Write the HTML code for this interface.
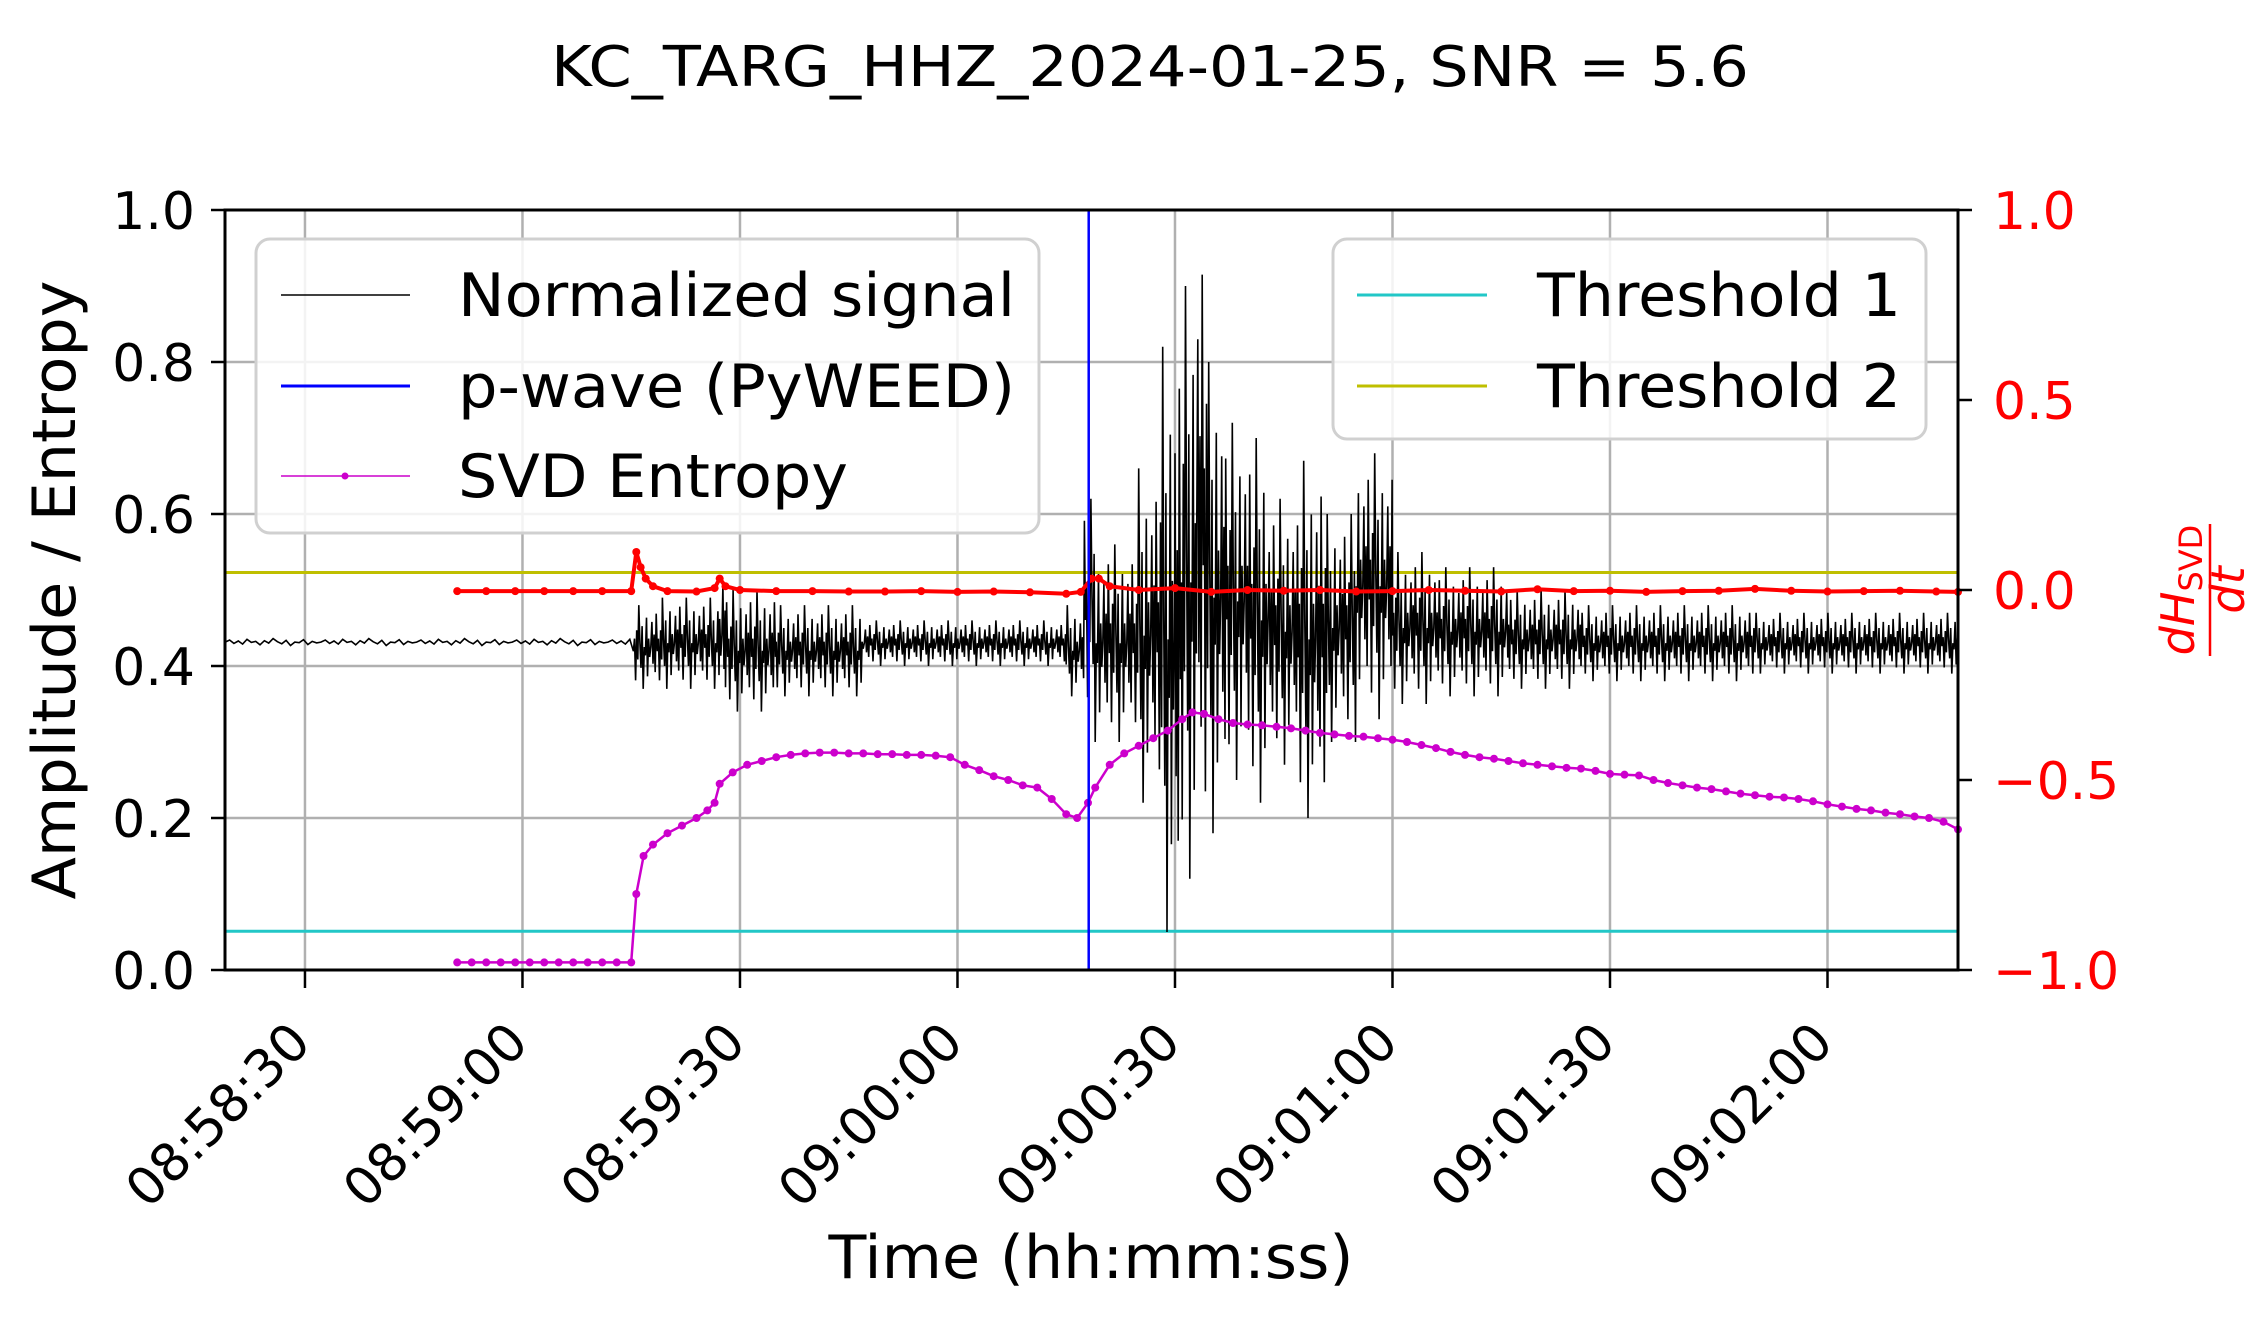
<!DOCTYPE html>
<html><head><meta charset="utf-8"><style>
html,body{margin:0;padding:0;background:#fff;}
svg{display:block;font-family:"DejaVu Sans","Liberation Sans",sans-serif;}
</style></head><body>
<svg id="chart" width="2257" height="1317" viewBox="0 0 2257 1317" xmlns="http://www.w3.org/2000/svg">
<rect width="2257" height="1317" fill="#fff"/>
<text x="1150" y="86" font-size="56" text-anchor="middle" textLength="1198" lengthAdjust="spacingAndGlyphs">KC_TARG_HHZ_2024-01-25, SNR = 5.6</text>
<g id="grid"></g>
<g id="series"></g>
<g id="axes"></g>
<g id="legend1">
  <rect x="256" y="239" width="783" height="294" rx="14" fill="#fff" fill-opacity="0.85" stroke="#d0d0d0" stroke-width="3"/>
  <line x1="281" y1="295" x2="410" y2="295" stroke="#000" stroke-width="1.5"/>
  <text x="458" y="316" font-size="60" textLength="557" lengthAdjust="spacingAndGlyphs">Normalized signal</text>
  <line x1="281" y1="386" x2="410" y2="386" stroke="#0000ff" stroke-width="3"/>
  <text x="458" y="407" font-size="60" textLength="557" lengthAdjust="spacingAndGlyphs">p-wave (PyWEED)</text>
  <line x1="281" y1="476" x2="410" y2="476" stroke="#cc00cc" stroke-width="1.5"/>
  <circle cx="345" cy="476" r="3.5" fill="#cc00cc"/>
  <text x="458" y="497" font-size="60" textLength="390" lengthAdjust="spacingAndGlyphs">SVD Entropy</text>
</g>
<g id="legend2">
  <rect x="1333" y="239" width="593" height="200" rx="14" fill="#fff" fill-opacity="0.85" stroke="#d0d0d0" stroke-width="3"/>
  <line x1="1357" y1="295" x2="1487" y2="295" stroke="#22c7c7" stroke-width="3"/>
  <text x="1537" y="316" font-size="60" textLength="364" lengthAdjust="spacingAndGlyphs">Threshold 1</text>
  <line x1="1357" y1="386" x2="1487" y2="386" stroke="#bfbf00" stroke-width="3"/>
  <text x="1537" y="407" font-size="60" textLength="364" lengthAdjust="spacingAndGlyphs">Threshold 2</text>
</g>
<text transform="translate(75,590) rotate(-90)" font-size="60" text-anchor="middle" textLength="619" lengthAdjust="spacingAndGlyphs">Amplitude / Entropy</text>
<text x="1091" y="1278" font-size="60" text-anchor="middle" textLength="525" lengthAdjust="spacingAndGlyphs">Time (hh:mm:ss)</text>
<g transform="translate(2210,590) rotate(-90)" fill="#ff0000" font-size="46">
  <text x="0" y="-16" text-anchor="middle" font-style="italic">dH<tspan font-size="32" font-style="normal" dy="8">SVD</tspan></text>
  <line x1="-66" y1="0" x2="66" y2="0" stroke="#ff0000" stroke-width="2.5"/>
  <text x="0" y="34" text-anchor="middle" font-style="italic">dt</text>
</g>
</svg>
<script>
// x domain in seconds after 08:58:00
const xDomain = [18.97, 258];
const xTickSecs = [30, 60, 90, 120, 150, 180, 210, 240];
const xTickLabels = ["08:58:30","08:59:00","08:59:30","09:00:00","09:00:30","09:01:00","09:01:30","09:02:00"];
const yTicks = [0.0, 0.2, 0.4, 0.6, 0.8, 1.0];
const yTickLabels = ["0.0","0.2","0.4","0.6","0.8","1.0"];
const yRTicks = [-1.0, -0.5, 0.0, 0.5, 1.0];
const yRTickLabels = ["\u22121.0","\u22120.5","0.0","0.5","1.0"];
const threshold1 = 0.051;
const threshold2 = 0.523;
const pwaveTime = 138.1;
// signal envelope segments: start, end, max, min
const sigStart = [19,75.3,79.3,87.2,88,95,107,135,137.5,139,145,148,150,151,153,154.5,157,160,163,167,171,175,180,186,196,206,230];
const sigEnd   = [75.3,79.3,87.2,88,95,107,135,137.5,139,145,148,150,151,153,154.5,157,160,163,167,171,175,180,186,196,206,230,258];
const sigMax   = [0.436,0.48,0.49,0.55,0.50,0.48,0.46,0.48,0.62,0.56,0.66,0.82,0.85,0.90,1.0,0.80,0.72,0.70,0.62,0.67,0.60,0.68,0.55,0.53,0.50,0.48,0.47];
const sigMin   = [0.427,0.37,0.37,0.33,0.34,0.36,0.40,0.36,0.33,0.30,0.22,0.05,0.0,0.12,0.15,0.18,0.25,0.22,0.27,0.20,0.30,0.33,0.35,0.36,0.37,0.38,0.39];
// SVD entropy
const entT = [51,53,55,57,59,61,63,65,67,69,71,73,75,75.7,76.7,78,80,82,84,85.5,86.5,87.2,89,91,93,95,97,99,101,103,105,107,109,111,113,115,117,119,121,123,125,127,129,131,133,135,136.5,138,139,141,143,145,147,149,151,152.4,154,156,158,160,162,164,166,168,170,172,174,176,178,180,182,184,186,188,190,192,194,196,198,200,202,204,206,208,210,212,214,216,218,220,222,224,226,228,230,232,234,236,238,240,242,244,246,248,250,252,254,256,258];
const entV = [0.01,0.01,0.01,0.01,0.01,0.01,0.01,0.01,0.01,0.01,0.01,0.01,0.01,0.10,0.15,0.165,0.18,0.19,0.20,0.21,0.22,0.245,0.26,0.27,0.275,0.28,0.283,0.285,0.286,0.286,0.285,0.285,0.284,0.284,0.283,0.283,0.282,0.28,0.27,0.263,0.255,0.25,0.243,0.24,0.225,0.205,0.20,0.22,0.24,0.27,0.285,0.295,0.305,0.315,0.33,0.339,0.337,0.33,0.325,0.323,0.322,0.32,0.318,0.315,0.312,0.31,0.308,0.307,0.305,0.303,0.30,0.296,0.292,0.287,0.283,0.28,0.278,0.275,0.272,0.27,0.268,0.266,0.265,0.262,0.258,0.257,0.256,0.25,0.246,0.243,0.24,0.238,0.235,0.232,0.23,0.228,0.227,0.225,0.222,0.218,0.215,0.212,0.21,0.207,0.205,0.202,0.20,0.195,0.185];
// entropy derivative (right axis)
const dT = [51,55,59,63,67,71,75,75.7,76.3,77,78,80,84,86.5,87.2,88,90,95,100,105,110,115,120,125,130,135,137,138.5,139.5,141,145,150,155,160,165,170,175,180,185,190,195,200,205,210,215,220,225,230,235,240,245,250,255,258];
const dV = [-0.003,-0.003,-0.003,-0.003,-0.003,-0.003,-0.003,0.10,0.06,0.03,0.01,-0.003,-0.004,0.005,0.03,0.01,0,-0.003,-0.003,-0.004,-0.004,-0.003,-0.005,-0.004,-0.006,-0.01,-0.005,0.03,0.03,0.01,0,0.005,-0.005,0,-0.002,0,-0.004,-0.003,0,-0.002,-0.004,0.002,-0.003,-0.002,-0.005,-0.003,-0.002,0.003,-0.002,-0.004,-0.003,-0.002,-0.004,-0.005];

const L=225,R=1958,T=210,B=970;
const NS="http://www.w3.org/2000/svg";
function xs(t){return L+(t-xDomain[0])/(xDomain[1]-xDomain[0])*(R-L);}
function ys(v){return B-v*(B-T);}
function yr(v){return B-(v+1)/2*(B-T);}
function mk(tag,attrs,parent){const e=document.createElementNS(NS,tag);for(const k in attrs)e.setAttribute(k,attrs[k]);parent.appendChild(e);return e;}
const grid=document.getElementById('grid'),series=document.getElementById('series'),axes=document.getElementById('axes');

xTickSecs.forEach((s,i)=>{
  const x=xs(s);
  const g=mk('line',{x1:x,y1:T,x2:x,y2:B,stroke:'#b0b0b0','stroke-width':2.5},grid);
  
  
  const tk=mk('line',{x1:x,y1:B,x2:x,y2:B+18,stroke:'#000','stroke-width':2.5},axes);
  
  
  const tx=mk('text',{transform:`translate(${x+8},${B+75}) rotate(-45)`,'font-size':52,'text-anchor':'end'},axes);
  tx.textContent=xTickLabels[i];
  
  
});
yTicks.forEach((v,i)=>{
  const y=ys(v);
  if(v>0&&v<1){const g=mk('line',{x1:L,y1:y,x2:R,y2:y,stroke:'#b0b0b0','stroke-width':2.5},grid);
  
  }
  const tk=mk('line',{x1:L-14,y1:y,x2:L,y2:y,stroke:'#000','stroke-width':2.5},axes);
  
  
  const tx=mk('text',{x:L-30,y:y+19,'font-size':52,'text-anchor':'end'},axes);
  tx.textContent=yTickLabels[i];
  
  
});
yRTicks.forEach((v,i)=>{
  const y=yr(v);
  const tk=mk('line',{x1:R,y1:y,x2:R+14,y2:y,stroke:'#000','stroke-width':2.5},axes);
  
  
  const tx=mk('text',{x:R+35,y:y+19,'font-size':52,fill:'#ff0000'},axes);
  tx.textContent=yRTickLabels[i];
  
  
});
const frame=mk('rect',{x:L,y:T,width:R-L,height:B-T,fill:'none',stroke:'#000','stroke-width':3},axes);



// thresholds
const t1=mk('line',{x1:L,y1:ys(threshold1),x2:R,y2:ys(threshold1),stroke:'#22c7c7','stroke-width':3},series);


const t2=mk('line',{x1:L,y1:ys(threshold2),x2:R,y2:ys(threshold2),stroke:'#bfbf00','stroke-width':3},series);



// signal (zigzag inside the read envelope)
const pattern=[0.5,0.8,0.3,0.65,0.2,0.9,0.45,0.6,0.1,0.7,0.35,1,0.55,0.25,0.75,0,0.5,0.4,0.85,0.15,0.6,0.38];
let pts=[],k=0;
for(let i=0;i<sigStart.length;i++){
  const step=(i===0)?0.6:0.15;
  for(let t=sigStart[i];t<sigEnd[i];t+=step){
    const f=pattern[k%pattern.length];k++;
    pts.push(xs(t).toFixed(1)+','+ys(sigMin[i]+f*(sigMax[i]-sigMin[i])).toFixed(1));
  }
}
const sig=mk('polyline',{points:pts.join(' '),fill:'none',stroke:'#000','stroke-width':1.6},series);



// derivative
const dpath=mk('polyline',{points:dT.map((t,i)=>xs(t).toFixed(1)+','+yr(dV[i]).toFixed(1)).join(' '),fill:'none',stroke:'#ff0000','stroke-width':4},series);


dT.forEach((t,i)=>{const c=mk('circle',{cx:xs(t),cy:yr(dV[i]),r:4,fill:'#ff0000'},series);

});

// entropy
const ep=mk('polyline',{points:entT.map((t,i)=>xs(t).toFixed(1)+','+ys(entV[i]).toFixed(1)).join(' '),fill:'none',stroke:'#cc00cc','stroke-width':2.5},series);


entT.forEach((t,i)=>{const c=mk('circle',{cx:xs(t),cy:ys(entV[i]),r:4,fill:'#cc00cc'},series);

});

// p-wave
const pw=mk('line',{x1:xs(pwaveTime),y1:T,x2:xs(pwaveTime),y2:B,stroke:'#0000ff','stroke-width':2.5},series);


</script>
</body></html>
